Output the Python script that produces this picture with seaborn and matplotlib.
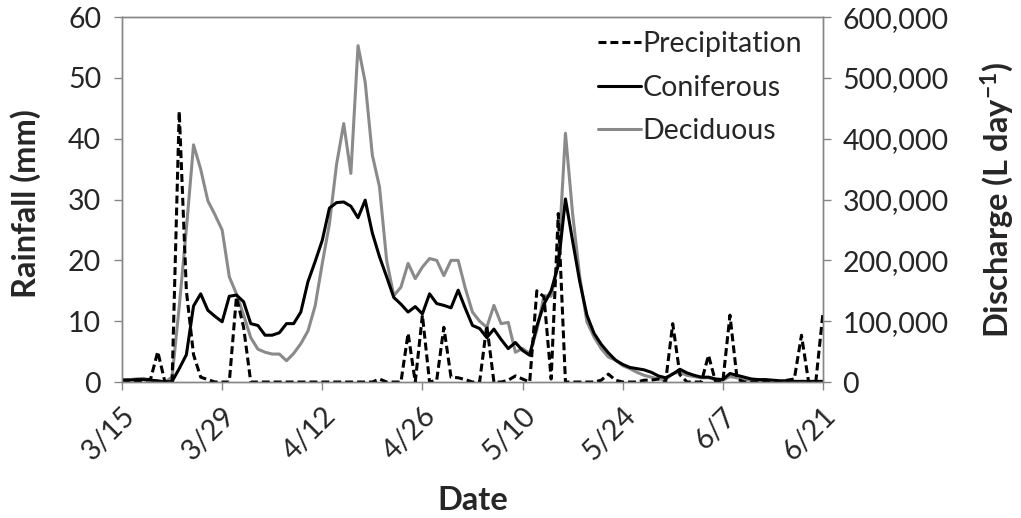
import numpy as np
import pandas as pd
import matplotlib
matplotlib.use("Agg")
import matplotlib.pyplot as plt
from matplotlib.ticker import FuncFormatter
import seaborn as sns

# Daily series, 3/15 through 6/21 (99 days)
precipitation_mm = [
    0.3, 0.3, 0.2, 0.2, 0.5, 5.0, 0.0, 0.0, 44.5, 15.0,
    4.5, 0.8, 0.4, 0.0, 0.0, 0.0, 14.0, 9.0, 0.0, 0.0,
    0.0, 0.0, 0.0, 0.0, 0.0, 0.0, 0.0, 0.0, 0.0, 0.0,
    0.0, 0.0, 0.0, 0.0, 0.0, 0.0, 0.5, 0.0, 0.0, 0.0,
    8.0, 0.0, 11.0, 0.0, 0.3, 9.0, 0.8, 0.7, 0.4, 0.0,
    0.0, 9.3, 0.0, 0.0, 0.3, 1.0, 0.5, 0.0, 15.0, 14.0,
    0.5, 27.7, 0.0, 0.0, 0.0, 0.0, 0.0, 0.3, 1.3, 0.3,
    0.0, 0.0, 0.0, 0.3, 0.3, 0.5, 0.0, 9.6, 1.2, 0.0,
    0.0, 0.0, 4.4, 0.0, 0.0, 11.0, 0.5, 0.0, 0.0, 0.0,
    0.0, 0.0, 0.0, 0.3, 0.5, 7.7, 0.0, 0.0, 11.3,
]

# Discharge in units of 10,000 L/day
coniferous_10k = [
    0.3, 0.3, 0.4, 0.4, 0.3, 0.2, 0.0, 0.1, 2.2, 4.5,
    12.5, 14.5, 11.8, 10.8, 9.9, 14.1, 14.3, 13.2, 9.6, 9.3,
    7.7, 7.7, 8.1, 9.6, 9.6, 11.5, 16.5, 19.8, 23.3, 28.6,
    29.5, 29.6, 28.9, 27.0, 29.9, 24.5, 20.6, 17.3, 13.9, 12.8,
    11.5, 12.4, 11.2, 14.5, 12.9, 12.6, 12.2, 15.1, 12.1, 9.3,
    8.8, 7.3, 8.7, 7.0, 5.5, 6.5, 5.2, 4.4, 9.2, 12.8,
    15.0, 19.2, 30.1, 23.2, 16.5, 11.0, 8.0, 6.2, 4.8, 3.6,
    2.9, 2.4, 2.2, 2.0, 1.6, 1.0, 0.7, 1.3, 2.1, 1.5,
    1.1, 0.8, 0.8, 0.5, 0.4, 1.4, 1.1, 0.8, 0.5, 0.4,
    0.4, 0.3, 0.2, 0.2, 0.1, 0.1, 0.1, 0.1, 0.1,
]

deciduous_10k = [
    0.3, 0.4, 0.5, 0.6, 0.3, 0.1, 0.0, 0.8, 12.4, 25.2,
    39.0, 35.0, 29.8, 27.5, 25.0, 17.3, 14.5, 11.0, 7.3, 5.4,
    4.9, 4.6, 4.6, 3.5, 4.7, 6.3, 8.4, 12.5, 19.5, 26.0,
    35.8, 42.5, 34.3, 55.3, 49.3, 37.3, 32.1, 20.0, 14.2, 15.6,
    19.5, 17.0, 18.9, 20.3, 20.0, 17.5, 20.0, 20.0, 15.4, 11.5,
    10.0, 9.0, 12.6, 9.6, 9.8, 4.9, 5.5, 4.7, 8.5, 14.2,
    14.1, 20.0, 40.9, 27.7, 17.3, 9.9, 7.4, 5.5, 4.1, 3.6,
    2.7, 2.2, 1.6, 1.1, 0.8, 0.5, 0.4, 1.4, 1.6, 1.1,
    0.9, 0.7, 0.7, 0.4, 0.3, 0.9, 0.7, 0.4, 0.3, 0.2,
    0.2, 0.2, 0.1, 0.1, 0.1, 0.1, 0.1, 0.1, 0.1,
]

date_tick_labels = ["3/15", "3/29", "4/12", "4/26", "5/10", "5/24", "6/7", "6/21"]
rain_ticks = [0, 10, 20, 30, 40, 50, 60]
discharge_ticks = [0, 100000, 200000, 300000, 400000, 500000, 600000]

sns.set_theme(style="white")
plt.rcParams["font.family"] = ["Lato", "DejaVu Sans"]
plt.rcParams["mathtext.fontset"] = "custom"
plt.rcParams["mathtext.rm"] = "Lato:bold"
plt.rcParams["mathtext.default"] = "rm"

day = np.arange(len(precipitation_mm))
df = pd.DataFrame({
    "day": day,
    "Precipitation": precipitation_mm,
    "Coniferous": np.array(coniferous_10k) * 10000,
    "Deciduous": np.array(deciduous_10k) * 10000,
})

GRAY = "#8a8a8a"
AXIS_GRAY = "#868686"
LW = 2.2
TICK_FS = 20.5
LABEL_FS = 23.5

fig, ax = plt.subplots(figsize=(10.21, 5.18), dpi=100)
fig.subplots_adjust(left=0.1195, right=0.806, top=0.967, bottom=0.2625)
ax2 = ax.twinx()

sns.lineplot(data=df, x="day", y="Deciduous", ax=ax2, color=GRAY, lw=LW, label="Deciduous")
sns.lineplot(data=df, x="day", y="Coniferous", ax=ax2, color="black", lw=LW, label="Coniferous")
sns.lineplot(data=df, x="day", y="Precipitation", ax=ax, color="black", lw=LW,
             linestyle=(0, (2.6, 1.3)), label="Precipitation")

# rainfall axis on top so the dashed series sits above the discharge lines
ax.set_zorder(ax2.get_zorder() + 1)
ax.patch.set_visible(False)

ax.set_xlim(0, len(day) - 1)
ax.set_ylim(0, 60)
ax2.set_ylim(0, 600000)
ax.set_xticks(day[::14])
ax.set_xticklabels(date_tick_labels, rotation=45, ha="right", va="top", rotation_mode="anchor")
ax.set_yticks(rain_ticks)
ax2.set_yticks(discharge_ticks)
ax2.yaxis.set_major_formatter(FuncFormatter(lambda v, p: f"{v:,.0f}"))

ax.tick_params(axis="x", direction="out", length=6, width=1, color=AXIS_GRAY,
               labelsize=TICK_FS, bottom=True, pad=9)
ax.tick_params(axis="y", direction="out", length=6, width=1, color=AXIS_GRAY,
               labelsize=TICK_FS, left=True, pad=9)
ax2.tick_params(axis="y", direction="out", length=6, width=1, color=AXIS_GRAY,
                labelsize=TICK_FS, right=True, pad=8)
for a in (ax, ax2):
    for s in a.spines.values():
        s.set_color(AXIS_GRAY)
        s.set_linewidth(1)

ax.set_xlabel("Date", fontsize=LABEL_FS, fontweight="bold")
ax.set_ylabel("Rainfall (mm)", fontsize=LABEL_FS, fontweight="bold")
ax2.set_ylabel(r"Discharge (L day$^{-1}$)", fontsize=LABEL_FS, fontweight="bold")
ax.xaxis.set_label_coords(0.5007, -0.285)
ax.yaxis.set_label_coords(-0.115, 0.49)
ax2.yaxis.set_label_coords(1.222, 0.5)

h1, l1 = ax.get_legend_handles_labels()
h2, l2 = ax2.get_legend_handles_labels()
ax2.get_legend().remove()
handles = h1 + h2[::-1]
labels = l1 + l2[::-1]
ax.legend(handles, labels, loc="upper right", bbox_to_anchor=(0.97, 0.962),
          frameon=False, fontsize=20.5, handlelength=1.5, handletextpad=0.05,
          labelspacing=0.62, borderpad=0, borderaxespad=0)

fig.savefig("out.png", dpi=100)
